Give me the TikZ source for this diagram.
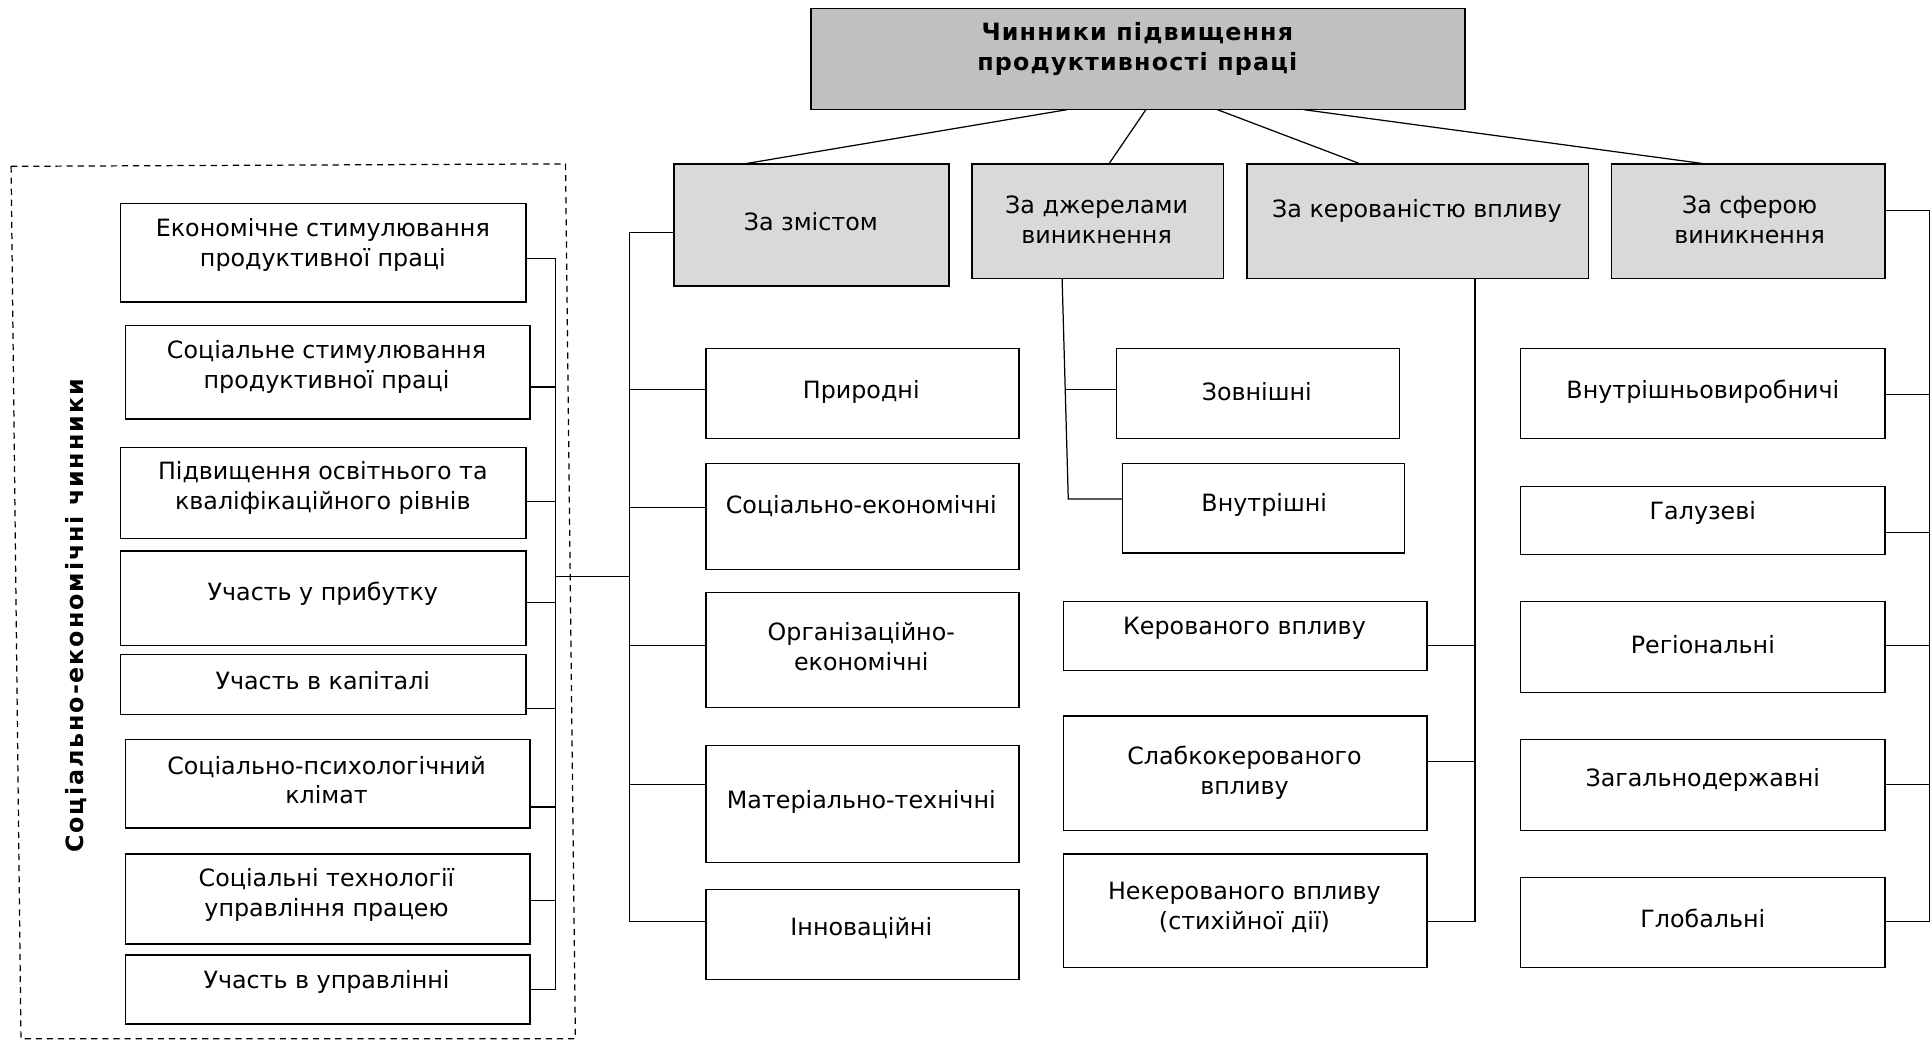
\documentclass[tikz,border=0pt]{standalone}
\usepackage{fontspec}
\setmainfont{DejaVu Sans}
\newfontfamily\spacedbold[LetterSpace=5]{DejaVu Sans Bold}
\newfontfamily\widebold[LetterSpace=8]{DejaVu Sans Bold}
\usetikzlibrary{calc}
\definecolor{titlegray}{RGB}{192,192,192}
\definecolor{catgray}{RGB}{217,217,217}
\newcommand\mkbox[6]{%
  \pgfmathsetmacro\mkw{#5-#3}%
  \pgfmathsetmacro\mkh{#6-#4}%
  \node[#1, minimum width=\mkw pt, minimum height=\mkh pt, anchor=north west] (#2) at (#3,#4) {};}
\begin{document}
\begin{tikzpicture}[x=1pt,y=-1pt,
  box/.style={draw, line width=1.2pt, rectangle, inner sep=0pt, outer sep=0pt, fill=white},
  catbox/.style={box, fill=catgray},
  titlebox/.style={box, fill=titlegray},
  txt/.style={align=center, inner sep=0pt, font=\fontsize{19.3}{24}\selectfont},
  conn/.style={line width=1pt},
  grp/.style={line width=1pt, dash pattern=on 5pt off 4pt}]
\useasboundingbox (0,0) rectangle (1568,845);

% title and categories
\mkbox{titlebox}{title}{658}{7}{1189}{89}
\mkbox{catbox}{zm}{547}{133}{770}{232}
\mkbox{catbox}{dz}{789}{133}{993}{226}
\mkbox{catbox}{kv}{1012}{133}{1289}{226}
\mkbox{catbox}{sf}{1308}{133}{1530}{226}

\node[txt, font=\fontsize{19.3}{24}\spacedbold] (t-title) at (923,40) {Чинники підвищення\\продуктивності праці};
\node[txt] (t-zm) at (658,180) {За змістом};
\node[txt] (t-dz) at (890,178.5) {За джерелами\\виникнення};
\node[txt] (t-kv) at (1150,171) {За керованістю впливу};
\node[txt] (t-sf) at (1420,178.5) {За сферою\\виникнення};

% column 1
\mkbox{box}{c1a}{573}{283}{827}{356}
\mkbox{box}{c1b}{573}{376}{827}{462}
\mkbox{box}{c1c}{573}{481}{827}{574}
\mkbox{box}{c1d}{573}{605}{827}{700}
\mkbox{box}{c1e}{573}{722}{827}{795}
\node[txt] (t-c1a) at (699,318) {Природні};
\node[txt] (t-c1b) at (699,411) {Соціально-економічні};
\node[txt] (t-c1c) at (699,525) {Організаційно-\\економічні};
\node[txt] (t-c1d) at (699,651) {Матеріально-технічні};
\node[txt] (t-c1e) at (699,753) {Інноваційні};

% column 2
\mkbox{box}{zv}{906}{283}{1136}{356}
\mkbox{box}{vn}{911}{376}{1140}{449}
\node[txt] (t-zv) at (1020,318) {Зовнішні};
\node[txt] (t-vn) at (1026,410) {Внутрішні};

% column 3
\mkbox{box}{kr}{863}{488}{1158}{544}
\mkbox{box}{sl}{863}{581}{1158}{674}
\mkbox{box}{nk}{863}{693}{1158}{785}
\node[txt] (t-kr) at (1010,510) {Керованого впливу};
\node[txt] (t-sl) at (1010,627) {Слабкокерованого\\впливу};
\node[txt] (t-nk) at (1010,736.5) {Некерованого впливу\\(стихійної дії)};

% column 4
\mkbox{box}{s1}{1234}{283}{1530}{356}
\mkbox{box}{s2}{1234}{395}{1530}{450}
\mkbox{box}{s3}{1234}{488}{1530}{562}
\mkbox{box}{s4}{1234}{600}{1530}{674}
\mkbox{box}{s5}{1234}{712}{1530}{785}
\node[txt] (t-s1) at (1382,318) {Внутрішньовиробничі};
\node[txt] (t-s2) at (1382,416) {Галузеві};
\node[txt] (t-s3) at (1382,523) {Регіональні};
\node[txt] (t-s4) at (1382,633) {Загальнодержавні};
\node[txt] (t-s5) at (1382,745) {Глобальні};

% left group
\coordinate (g1) at (9,135);
\coordinate (g2) at (459,133);
\coordinate (g3) at (467,843);
\coordinate (g4) at (17,843);
\draw[grp] (g1) -- (g2) -- (g3) -- (g4) -- cycle;
\node[inner sep=0pt, rotate=90, font=\fontsize{19.3}{24}\widebold] (t-grp) at (62,500) {Соціально-економічні чинники};

\mkbox{box}{l1}{98}{165}{427}{245}
\mkbox{box}{l2}{102}{264}{430}{340}
\mkbox{box}{l3}{98}{363}{427}{437}
\mkbox{box}{l4}{98}{447}{427}{524}
\mkbox{box}{l5}{98}{531}{427}{580}
\mkbox{box}{l6}{102}{600}{430}{672}
\mkbox{box}{l7}{102}{693}{430}{766}
\mkbox{box}{l8}{102}{775}{430}{831}
\node[txt] (t-l1) at (262,199) {Економічне стимулювання\\продуктивної праці};
\node[txt] (t-l2) at (265,298) {Соціальне стимулювання\\продуктивної праці};
\node[txt] (t-l3) at (262,396) {Підвищення освітнього та\\кваліфікаційного рівнів};
\node[txt] (t-l4) at (262,482) {Участь у прибутку};
\node[txt] (t-l5) at (262,552) {Участь в капіталі};
\node[txt] (t-l6) at (265,633) {Соціально-психологічний\\клімат};
\node[txt] (t-l7) at (265,726.5) {Соціальні технології\\управління працею};
\node[txt] (t-l8) at (265,797) {Участь в управлінні};

% connectors: title to categories
\draw[conn] ($(title.south west)+(208,0)$) -- ($(zm.north west)+(57,0)$);
\draw[conn] ($(title.south west)+(272,0)$) -- ($(dz.north west)+(111,0)$);
\draw[conn] ($(title.south west)+(330,0)$) -- ($(kv.north west)+(92,0)$);
\draw[conn] ($(title.south west)+(400,0)$) -- ($(sf.north west)+(76,0)$);

% column 1 tree
\coordinate (sp1) at (511,189);
\path ($(c1a.north west)+(0,33)$) coordinate (k1a)
      ($(c1b.north west)+(0,36)$) coordinate (k1b)
      ($(c1c.north west)+(0,43)$) coordinate (k1c)
      ($(c1d.north west)+(0,32)$) coordinate (k1d)
      ($(c1e.north west)+(0,26)$) coordinate (k1e);
\draw[conn] (zm.west |- sp1) -- (sp1) -- (sp1 |- k1e) -- (k1e);
\foreach \k in {k1a,k1b,k1c,k1d} \draw[conn] (\k) -- (\k -| sp1);

% column 2 tree
\coordinate (sp2t) at ($(dz.south west)+(73,0)$);
\path ($(zv.north west)+(0,33)$) coordinate (k2a)
      ($(vn.north west)+(0,29)$) coordinate (k2b);
\draw[conn] (sp2t) -- ($(k2b)+(-44,0)$) -- (k2b);
\draw[conn] (k2a) -- ($(k2a)+(-41,0)$);

% column 3 tree
\coordinate (sp3) at ($(kv.south west)+(185,0)$);
\path ($(kr.north east)+(0,36)$) coordinate (k3a)
      ($(sl.north east)+(0,37)$) coordinate (k3b)
      ($(nk.north east)+(0,55)$) coordinate (k3c);
\draw[conn] (sp3) -- (sp3 |- k3c) -- (k3c);
\foreach \k in {k3a,k3b} \draw[conn] (\k) -- (\k -| sp3);

% column 4 tree
\path ($(sf.north east)+(0,38)$) coordinate (k4t)
      ($(s1.north east)+(0,37)$) coordinate (k4a)
      ($(s2.north east)+(0,37)$) coordinate (k4b)
      ($(s3.north east)+(0,36)$) coordinate (k4c)
      ($(s4.north east)+(0,37)$) coordinate (k4d)
      ($(s5.north east)+(0,36)$) coordinate (k4e);
\coordinate (sp4) at ($(k4t)+(36,0)$);
\draw[conn] (k4t) -- (sp4) -- (sp4 |- k4e) -- (k4e);
\foreach \k in {k4a,k4b,k4c,k4d} \draw[conn] (\k) -- (\k -| sp4);

% left tree
\coordinate (sp5) at (451,468);
\path ($(l1.north east)+(0,45)$) coordinate (k5a)
      ($(l2.north east)+(0,50)$) coordinate (k5b)
      ($(l3.north east)+(0,44)$) coordinate (k5c)
      ($(l4.north east)+(0,42)$) coordinate (k5d)
      ($(l5.north east)+(0,44)$) coordinate (k5e)
      ($(l6.north east)+(0,55)$) coordinate (k5f)
      ($(l7.north east)+(0,38)$) coordinate (k5g)
      ($(l8.north east)+(0,28)$) coordinate (k5h);
\draw[conn] (k5a -| sp5) -- (k5h -| sp5);
\foreach \k in {k5a,k5b,k5c,k5d,k5e,k5f,k5g,k5h} \draw[conn] (\k) -- (\k -| sp5);
\draw[conn] (sp5) -- (sp5 -| sp1);
\end{tikzpicture}
\end{document}
